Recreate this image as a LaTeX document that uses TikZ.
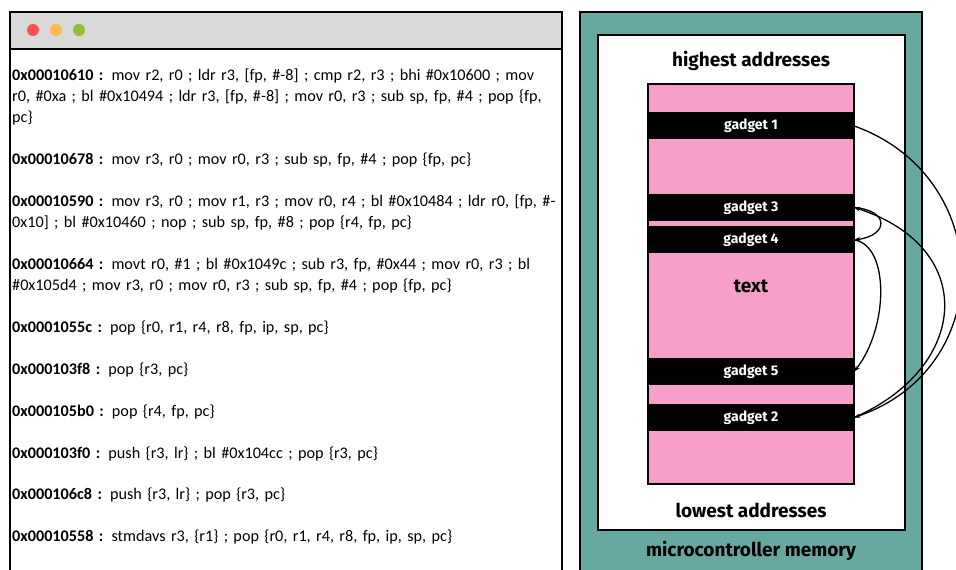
\documentclass[tikz,border=0pt]{standalone}
\usepackage{fontspec}
\setmainfont{Carlito}
\newfontfamily\memfont{Fira Sans}
\usetikzlibrary{arrows.meta}
\definecolor{barGray}{RGB}{217,217,217}
\definecolor{memTeal}{RGB}{103,169,161}
\definecolor{memPink}{RGB}{247,159,201}
\definecolor{dotRed}{RGB}{255,80,80}
\definecolor{dotOrange}{RGB}{255,186,80}
\definecolor{dotGreen}{RGB}{150,190,50}
\tikzset{
  frame/.style={line width=2pt},
  codeline/.style={anchor=base west, inner sep=0pt, align=left, text width=600pt, font=\fontsize{16.2}{21}\selectfont},
  gadgetbar/.style={fill=black, text=white, minimum width=206pt, minimum height=27pt, inner sep=0pt, font=\memfont\bfseries\fontsize{14}{16}\selectfont},
  memlabel/.style={inner sep=0pt, font=\memfont\bfseries\fontsize{19}{22}\selectfont},
  ropjump/.style={-{Stealth[length=6pt,width=4.5pt]}, line width=1.3pt}
}
\newcommand{\entry}[4]{\node[codeline] (#1) at (12, #2) {\textbf{#3 :} #4};}
\newcommand{\gadget}[3]{\node[gadgetbar] (#1) at (751, #2) {#3};}
\newcommand{\winbutton}[4]{\fill[#4] (#2, #3) circle (6pt) coordinate (#1);}

\begin{document}
\begin{tikzpicture}[x=1pt,y=1pt]
        \useasboundingbox (0,0) rectangle (956,570);

        % code window
        \draw[frame, fill=white] (10,-10) rectangle (562,558);
        \draw[frame, fill=barGray] (10,521) rectangle (562,558);
        \winbutton{btnred}{33}{540}{dotRed}
        \winbutton{btnorange}{56}{540}{dotOrange}
        \winbutton{btngreen}{79}{540}{dotGreen}

        % gadgets found
        \entry{e1}{489}{0x00010610}{mov r2, r0 ; ldr r3, [fp, \#-8] ; cmp r2, r3 ; bhi \#0x10600 ; mov\\r0, \#0xa ; bl \#0x10494 ; ldr r3, [fp, \#-8] ; mov r0, r3 ; sub sp, fp, \#4 ; pop \{fp,\\pc\}}
        \entry{e2}{405}{0x00010678}{mov r3, r0 ; mov r0, r3 ; sub sp, fp, \#4 ; pop \{fp, pc\}}
        \entry{e3}{363}{0x00010590}{mov r3, r0 ; mov r1, r3 ; mov r0, r4 ; bl \#0x10484 ; ldr r0, [fp, \#-\\0x10] ; bl \#0x10460 ; nop ; sub sp, fp, \#8 ; pop \{r4, fp, pc\}}
        \entry{e4}{300}{0x00010664}{movt r0, \#1 ; bl \#0x1049c ; sub r3, fp, \#0x44 ; mov r0, r3 ; bl\\\#0x105d4 ; mov r3, r0 ; mov r0, r3 ; sub sp, fp, \#4 ; pop \{fp, pc\}}
        \entry{e5}{237}{0x0001055c}{pop \{r0, r1, r4, r8, fp, ip, sp, pc\}}
        \entry{e6}{195}{0x000103f8}{pop \{r3, pc\}}
        \entry{e7}{153}{0x000105b0}{pop \{r4, fp, pc\}}
        \entry{e8}{111}{0x000103f0}{push \{r3, lr\} ; bl \#0x104cc ; pop \{r3, pc\}}
        \entry{e9}{70}{0x000106c8}{push \{r3, lr\} ; pop \{r3, pc\}}
        \entry{e10}{28}{0x00010558}{stmdavs r3, \{r1\} ; pop \{r0, r1, r4, r8, fp, ip, sp, pc\}}

        % memory
        \draw[frame, fill=memTeal] (580,-10) rectangle (922,558);
        \draw[frame, fill=white] (598,40) rectangle (905,535);
        \draw[frame, fill=memPink] (648,86) rectangle (854,486);
        \node[memlabel] (high) at (751,509) {highest addresses};
        \node[memlabel] (low) at (751,60) {lowest addresses};
        \node[memlabel] (mcu) at (751,19) {microcontroller memory};
        \node[memlabel] (txt) at (751,284) {text};

        % gadgets in memory
        \gadget{g1}{444}{gadget 1}
        \gadget{g3}{362.5}{gadget 3}
        \gadget{g4}{330}{gadget 4}
        \gadget{g5}{198.5}{gadget 5}
        \gadget{g2}{152.5}{gadget 2}

        % chain
        \draw[ropjump] (g1.east) .. controls +(140,-50) and +(145,50) .. (g2.east);
        \draw[ropjump] (g2.east) .. controls +(115,50) and +(125,-40) .. (g3.east);
        \draw[ropjump] (g3.east) .. controls +(35,-3) and +(35,5) .. (g4.east);
        \draw[ropjump] (g4.east) .. controls +(35,-5) and +(35,45) .. (g5.east);
    \end{tikzpicture}
\end{document}
